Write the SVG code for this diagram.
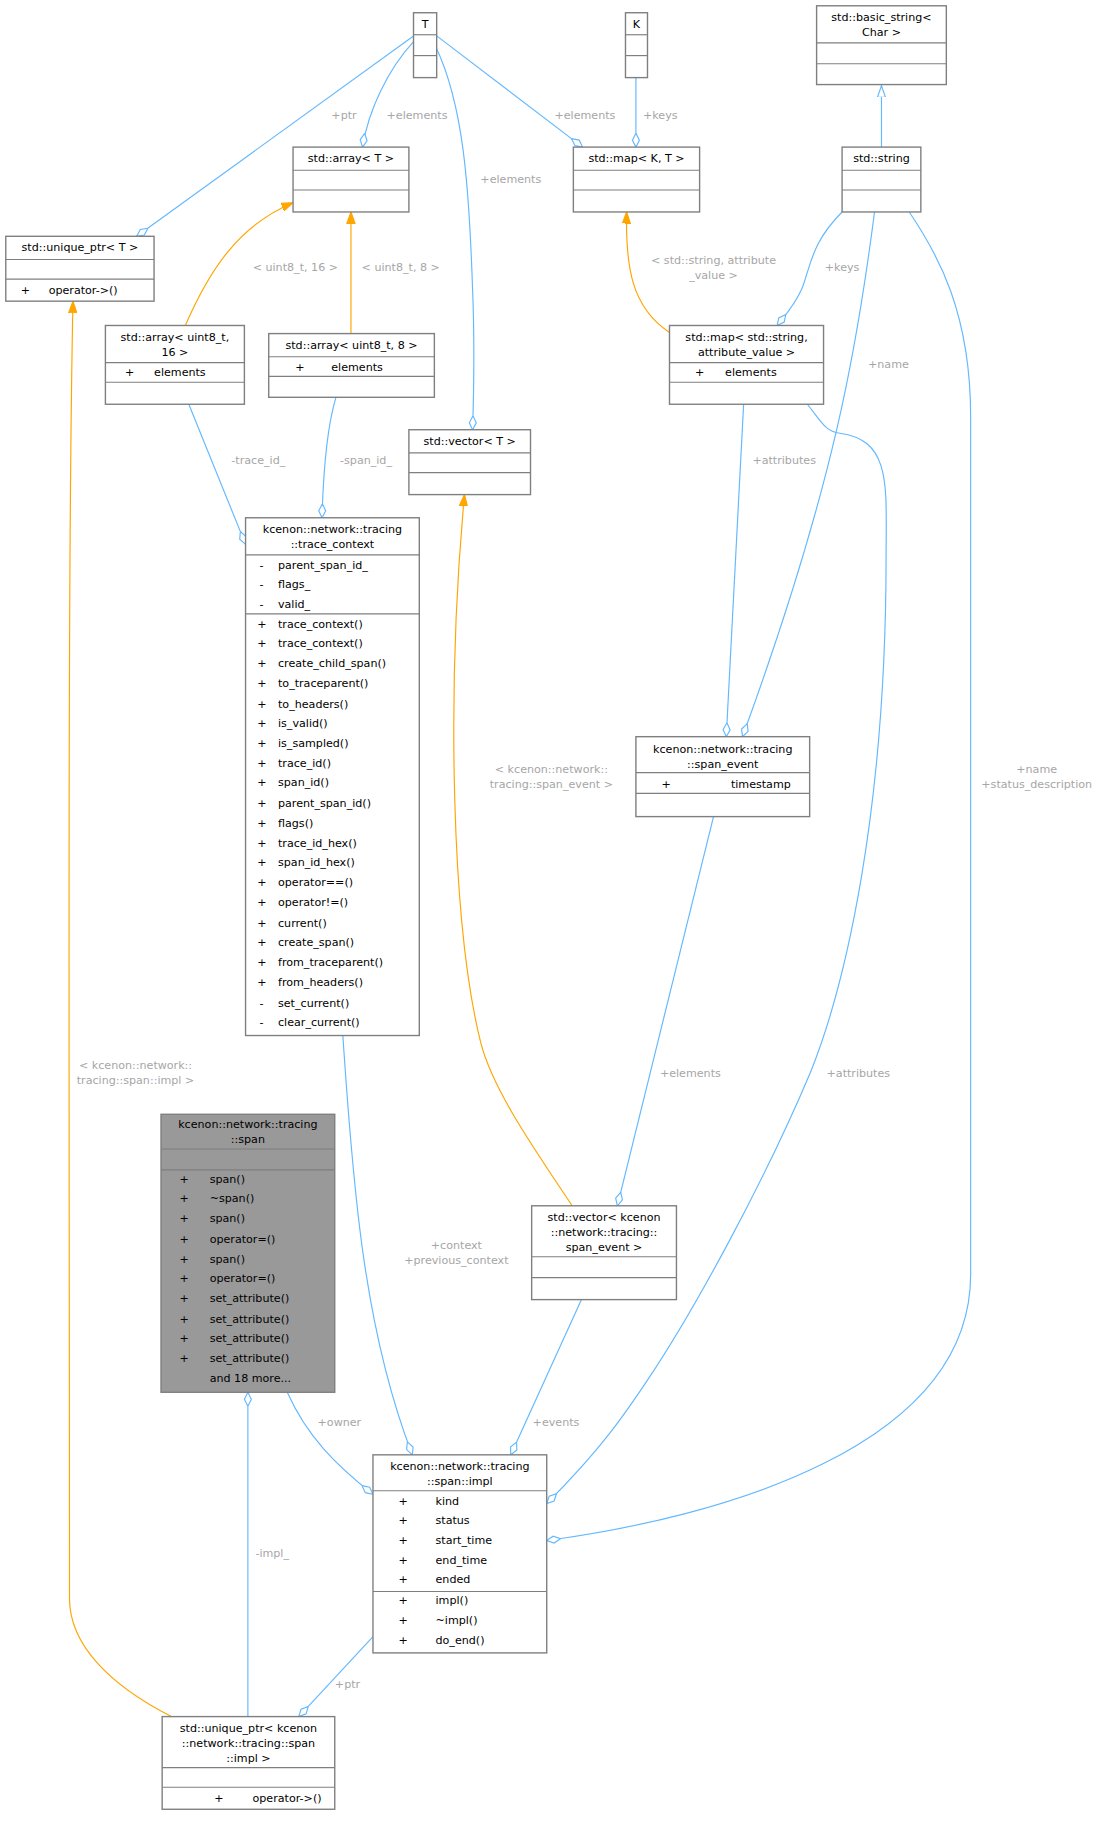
<svg xmlns="http://www.w3.org/2000/svg" width="1112" height="1823" viewBox="0 0 1112 1823">
<style>
text{font-family:"DejaVu Sans","Liberation Sans",sans-serif;font-size:9.6px;fill:#000}
.t{text-anchor:middle}
.lb{fill:#a6a6a6;text-anchor:middle}
.box{fill:#fff;stroke:#7f7f7f;stroke-width:1.2}
.gray{fill:#999;stroke:#7f7f7f;stroke-width:1.2}
.sep{stroke:#7f7f7f;stroke-width:1}
.e{fill:none;stroke:#63b8ff;stroke-width:1}
.o{fill:none;stroke:#ffa500;stroke-width:1}
</style>
<defs>
<marker id="dia" markerUnits="userSpaceOnUse" markerWidth="14" markerHeight="8" viewBox="0 -4 14 8" refX="12" refY="0" orient="auto"><path d="M0,0 L6,-3 L12,0 L6,3 Z" fill="#fff" stroke="#63b8ff"/></marker>
<marker id="tri" markerUnits="userSpaceOnUse" markerWidth="12" markerHeight="8" viewBox="0 -4 12 8" refX="10" refY="0" orient="auto"><path d="M0,-3.5 L10,0 L0,3.5 Z" fill="#ffa500" stroke="#ffa500"/></marker>
<marker id="inh" markerUnits="userSpaceOnUse" markerWidth="12" markerHeight="8" viewBox="0 -4 12 8" refX="11" refY="0" orient="auto"><path d="M0,-3.5 L10,0 L0,3.5 Z" fill="#fff" stroke="#63b8ff"/></marker>
</defs>
<rect width="1112" height="1823" fill="#fff"/>
<g transform="scale(1.1583)">
<g id="connectors">
<path class="e" d="M357,31 L118,204" marker-end="url(#dia)"/>
<text class="lb" x="297" y="103">+ptr</text>
<path class="e" d="M357,36 C335,60 318,95 313,127" marker-end="url(#dia)"/>
<text class="lb" x="360" y="103">+elements</text>
<path class="e" d="M376,40 C400,90 405,160 408,250 C410,300 409,340 408,371" marker-end="url(#dia)"/>
<text class="lb" x="441" y="158">+elements</text>
<path class="e" d="M377,31 L503,127" marker-end="url(#dia)"/>
<text class="lb" x="505" y="103">+elements</text>
<path class="e" d="M549,67 L549,127" marker-end="url(#dia)"/>
<text class="lb" x="570" y="103">+keys</text>
<path class="e" d="M761,127 L761,73" marker-end="url(#inh)"/>
<path class="o" d="M160,281 C180,235 205,195 253,175" marker-end="url(#tri)"/>
<text class="lb" x="255" y="234">&lt; uint8_t, 16 &gt;</text>
<path class="o" d="M303,288 L303,183" marker-end="url(#tri)"/>
<text class="lb" x="346" y="234">&lt; uint8_t, 8 &gt;</text>
<path class="o" d="M578,287 C545,265 540,230 541,183" marker-end="url(#tri)"/>
<text class="lb" x="616" y="228">&lt; std::string, attribute</text>
<text class="lb" x="616" y="241">_value &gt;</text>
<path class="e" d="M727,183 C700,210 700,230 692,250 C685,265 678,272 671,281" marker-end="url(#dia)"/>
<text class="lb" x="727" y="234">+keys</text>
<path class="e" d="M755,183 C740,300 720,420 641,636" marker-end="url(#dia)"/>
<text class="lb" x="767" y="318">+name</text>
<path class="e" d="M785,183 C810,220 838,270 838,360 L838,1100 C838,1250 620,1310 472,1330" marker-end="url(#dia)"/>
<text class="lb" x="895" y="667">+name</text>
<text class="lb" x="895" y="680">+status_description</text>
<path class="e" d="M642,349 L627,636" marker-end="url(#dia)"/>
<text class="lb" x="677" y="401">+attributes</text>
<path class="e" d="M697,349 C710,365 712,372 725,374 C770,380 765,420 765,480 C765,700 730,850 700,925 C660,1020 600,1130 560,1190 C540,1220 520,1250 472,1298" marker-end="url(#dia)"/>
<text class="lb" x="741" y="930">+attributes</text>
<path class="e" d="M163,349 L212,470" marker-end="url(#dia)"/>
<text class="lb" x="223" y="401">-trace_id_</text>
<path class="e" d="M290,343 C282,370 279,410 278,447" marker-end="url(#dia)"/>
<text class="lb" x="316" y="401">-span_id_</text>
<path class="o" d="M494,1041 C460,990 425,940 415,900 C390,800 385,600 401,427" marker-end="url(#tri)"/>
<text class="lb" x="476" y="667">&lt; kcenon::network::</text>
<text class="lb" x="476" y="680">tracing::span_event &gt;</text>
<path class="e" d="M616,705 L533,1041" marker-end="url(#dia)"/>
<text class="lb" x="596" y="930">+elements</text>
<path class="e" d="M296,894 C305,1030 315,1150 356,1256" marker-end="url(#dia)"/>
<text class="lb" x="394" y="1078">+context</text>
<text class="lb" x="394" y="1091">+previous_context</text>
<path class="e" d="M502,1122 L441,1256" marker-end="url(#dia)"/>
<text class="lb" x="480" y="1231">+events</text>
<path class="e" d="M248,1202 C265,1240 290,1265 322,1290" marker-end="url(#dia)"/>
<text class="lb" x="293" y="1231">+owner</text>
<path class="e" d="M322,1413 L258,1482" marker-end="url(#dia)"/>
<text class="lb" x="300" y="1457">+ptr</text>
<path class="e" d="M214,1482 L214,1202" marker-end="url(#dia)"/>
<text class="lb" x="235" y="1344">-impl_</text>
<path class="o" d="M148,1482 C95,1455 60,1420 60,1380 C60,1000 58,500 63,260" marker-end="url(#tri)"/>
<text class="lb" x="117" y="923">&lt; kcenon::network::</text>
<text class="lb" x="117" y="936">tracing::span::impl &gt;</text>
</g>
<g id="n_T">
<rect class="box" x="357" y="11" width="20" height="56"/>
<line class="sep" x1="357" y1="30" x2="377" y2="30"/><line class="sep" x1="357" y1="48" x2="377" y2="48"/>
<text class="t" x="367" y="24">T</text>
</g>
<g id="n_K">
<rect class="box" x="540" y="11" width="19" height="56"/>
<line class="sep" x1="540" y1="30" x2="559" y2="30"/><line class="sep" x1="540" y1="48" x2="559" y2="48"/>
<text class="t" x="549.5" y="24">K</text>
</g>
<g id="n_basic_string">
<rect class="box" x="705" y="5" width="112" height="68"/>
<line class="sep" x1="705" y1="37" x2="817" y2="37"/><line class="sep" x1="705" y1="55" x2="817" y2="55"/>
<text class="t" x="761" y="18">std::basic_string&lt;</text>
<text class="t" x="761" y="31">Char &gt;</text>
</g>
<g id="n_string">
<rect class="box" x="727" y="127" width="68" height="56"/>
<line class="sep" x1="727" y1="147" x2="795" y2="147"/><line class="sep" x1="727" y1="164" x2="795" y2="164"/>
<text class="t" x="761" y="140">std::string</text>
</g>
<g id="n_array_T">
<rect class="box" x="253" y="127" width="100" height="56"/>
<line class="sep" x1="253" y1="147" x2="353" y2="147"/><line class="sep" x1="253" y1="164" x2="353" y2="164"/>
<text class="t" x="303" y="140">std::array&lt; T &gt;</text>
</g>
<g id="n_map_KT">
<rect class="box" x="495" y="127" width="109" height="56"/>
<line class="sep" x1="495" y1="147" x2="604" y2="147"/><line class="sep" x1="495" y1="164" x2="604" y2="164"/>
<text class="t" x="549.5" y="140">std::map&lt; K, T &gt;</text>
</g>
<g id="n_unique_ptr_T">
<rect class="box" x="5" y="204" width="128" height="56"/>
<line class="sep" x1="5" y1="224" x2="133" y2="224"/><line class="sep" x1="5" y1="241" x2="133" y2="241"/>
<text class="t" x="69" y="217">std::unique_ptr&lt; T &gt;</text>
<text x="18" y="254">+</text><text x="42" y="254">operator-&gt;()</text>
</g>
<g id="n_array16">
<rect class="box" x="91" y="281" width="120" height="68"/>
<line class="sep" x1="91" y1="313" x2="211" y2="313"/><line class="sep" x1="91" y1="330" x2="211" y2="330"/>
<text class="t" x="151" y="294">std::array&lt; uint8_t,</text>
<text class="t" x="151" y="307">16 &gt;</text>
<text x="108" y="325">+</text><text x="133" y="325">elements</text>
</g>
<g id="n_array8">
<rect class="box" x="232" y="288" width="143" height="55"/>
<line class="sep" x1="232" y1="308" x2="375" y2="308"/><line class="sep" x1="232" y1="325" x2="375" y2="325"/>
<text class="t" x="303.5" y="301">std::array&lt; uint8_t, 8 &gt;</text>
<text x="255" y="320">+</text><text x="286" y="320">elements</text>
</g>
<g id="n_map_attr">
<rect class="box" x="578" y="281" width="133" height="68"/>
<line class="sep" x1="578" y1="313" x2="711" y2="313"/><line class="sep" x1="578" y1="330" x2="711" y2="330"/>
<text class="t" x="644.5" y="294">std::map&lt; std::string,</text>
<text class="t" x="644.5" y="307">attribute_value &gt;</text>
<text x="600" y="325">+</text><text x="626" y="325">elements</text>
</g>
<g id="n_vector_T">
<rect class="box" x="353" y="371" width="105" height="56"/>
<line class="sep" x1="353" y1="391" x2="458" y2="391"/><line class="sep" x1="353" y1="408" x2="458" y2="408"/>
<text class="t" x="405.5" y="384">std::vector&lt; T &gt;</text>
</g>
<g id="n_trace_context">
<rect class="box" x="212" y="447" width="150" height="447"/>
<line class="sep" x1="212" y1="479" x2="362" y2="479"/><line class="sep" x1="212" y1="530" x2="362" y2="530"/>
<text class="t" x="287" y="460">kcenon::network::tracing</text>
<text class="t" x="287" y="473">::trace_context</text>
<text x="224" y="491">-</text><text x="240" y="491">parent_span_id_</text>
<text x="224" y="508">-</text><text x="240" y="508">flags_</text>
<text x="224" y="525">-</text><text x="240" y="525">valid_</text>
<text x="222" y="542">+</text><text x="240" y="542">trace_context()</text>
<text x="222" y="559">+</text><text x="240" y="559">trace_context()</text>
<text x="222" y="576">+</text><text x="240" y="576">create_child_span()</text>
<text x="222" y="593">+</text><text x="240" y="593">to_traceparent()</text>
<text x="222" y="611">+</text><text x="240" y="611">to_headers()</text>
<text x="222" y="628">+</text><text x="240" y="628">is_valid()</text>
<text x="222" y="645">+</text><text x="240" y="645">is_sampled()</text>
<text x="222" y="662">+</text><text x="240" y="662">trace_id()</text>
<text x="222" y="679">+</text><text x="240" y="679">span_id()</text>
<text x="222" y="697">+</text><text x="240" y="697">parent_span_id()</text>
<text x="222" y="714">+</text><text x="240" y="714">flags()</text>
<text x="222" y="731">+</text><text x="240" y="731">trace_id_hex()</text>
<text x="222" y="748">+</text><text x="240" y="748">span_id_hex()</text>
<text x="222" y="765">+</text><text x="240" y="765">operator==()</text>
<text x="222" y="782">+</text><text x="240" y="782">operator!=()</text>
<text x="222" y="800">+</text><text x="240" y="800">current()</text>
<text x="222" y="817">+</text><text x="240" y="817">create_span()</text>
<text x="222" y="834">+</text><text x="240" y="834">from_traceparent()</text>
<text x="222" y="851">+</text><text x="240" y="851">from_headers()</text>
<text x="224" y="869">-</text><text x="240" y="869">set_current()</text>
<text x="224" y="886">-</text><text x="240" y="886">clear_current()</text>
</g>
<g id="n_span_event">
<rect class="box" x="549" y="636" width="150" height="69"/>
<line class="sep" x1="549" y1="667" x2="699" y2="667"/><line class="sep" x1="549" y1="685" x2="699" y2="685"/>
<text class="t" x="624" y="650">kcenon::network::tracing</text>
<text class="t" x="624" y="663">::span_event</text>
<text x="571" y="680">+</text><text x="631" y="680">timestamp</text>
</g>
<g id="n_span">
<rect class="gray" x="139" y="962" width="150" height="240"/>
<line class="sep" x1="139" y1="992" x2="289" y2="992"/><line class="sep" x1="139" y1="1010" x2="289" y2="1010"/>
<text class="t" x="214" y="974">kcenon::network::tracing</text>
<text class="t" x="214" y="987">::span</text>
<text x="155" y="1021">+</text><text x="181" y="1021">span()</text>
<text x="155" y="1038">+</text><text x="181" y="1038">~span()</text>
<text x="155" y="1055">+</text><text x="181" y="1055">span()</text>
<text x="155" y="1073">+</text><text x="181" y="1073">operator=()</text>
<text x="155" y="1090">+</text><text x="181" y="1090">span()</text>
<text x="155" y="1107">+</text><text x="181" y="1107">operator=()</text>
<text x="155" y="1124">+</text><text x="181" y="1124">set_attribute()</text>
<text x="155" y="1142">+</text><text x="181" y="1142">set_attribute()</text>
<text x="155" y="1159">+</text><text x="181" y="1159">set_attribute()</text>
<text x="155" y="1176">+</text><text x="181" y="1176">set_attribute()</text>
<text x="181" y="1193">and 18 more...</text>
</g>
<g id="n_vector_span_event">
<rect class="box" x="459" y="1041" width="125" height="81"/>
<line class="sep" x1="459" y1="1085" x2="584" y2="1085"/><line class="sep" x1="459" y1="1103" x2="584" y2="1103"/>
<text class="t" x="521.5" y="1054">std::vector&lt; kcenon</text>
<text class="t" x="521.5" y="1067">::network::tracing::</text>
<text class="t" x="521.5" y="1080">span_event &gt;</text>
</g>
<g id="n_span_impl">
<rect class="box" x="322" y="1256" width="150" height="171"/>
<line class="sep" x1="322" y1="1287" x2="472" y2="1287"/><line class="sep" x1="322" y1="1374" x2="472" y2="1374"/>
<text class="t" x="397" y="1269">kcenon::network::tracing</text>
<text class="t" x="397" y="1282">::span::impl</text>
<text x="344" y="1299">+</text><text x="376" y="1299">kind</text>
<text x="344" y="1316">+</text><text x="376" y="1316">status</text>
<text x="344" y="1333">+</text><text x="376" y="1333">start_time</text>
<text x="344" y="1350">+</text><text x="376" y="1350">end_time</text>
<text x="344" y="1367">+</text><text x="376" y="1367">ended</text>
<text x="344" y="1385">+</text><text x="376" y="1385">impl()</text>
<text x="344" y="1402">+</text><text x="376" y="1402">~impl()</text>
<text x="344" y="1419">+</text><text x="376" y="1419">do_end()</text>
</g>
<g id="n_unique_ptr_impl">
<rect class="box" x="140" y="1482" width="149" height="80"/>
<line class="sep" x1="140" y1="1526" x2="289" y2="1526"/><line class="sep" x1="140" y1="1543" x2="289" y2="1543"/>
<text class="t" x="214.5" y="1495">std::unique_ptr&lt; kcenon</text>
<text class="t" x="214.5" y="1508">::network::tracing::span</text>
<text class="t" x="214.5" y="1521">::impl &gt;</text>
<text x="185" y="1556">+</text><text x="218" y="1556">operator-&gt;()</text>
</g>
</g>
</svg>
